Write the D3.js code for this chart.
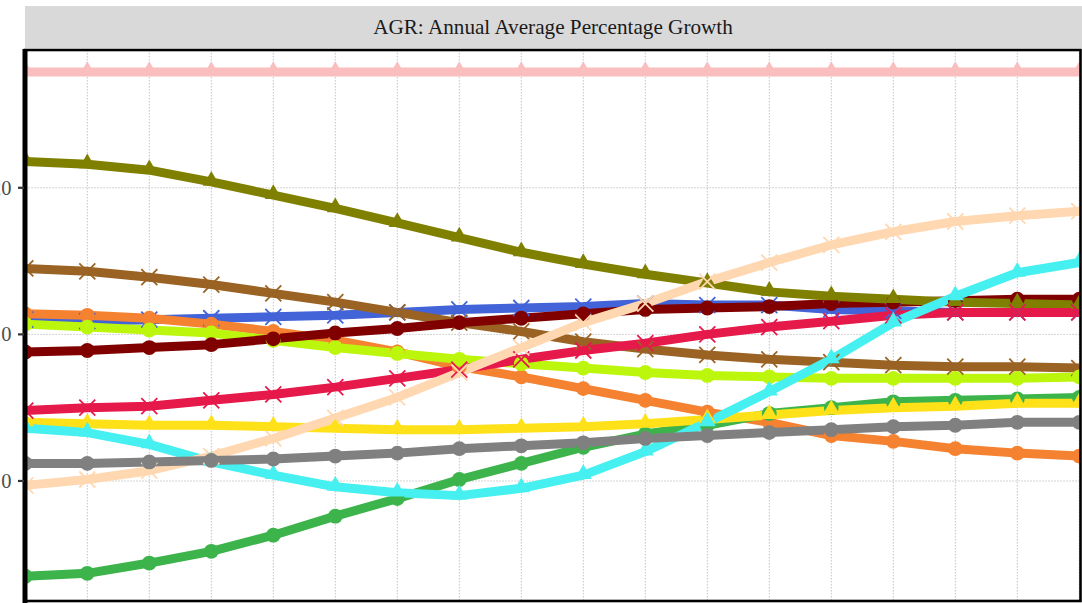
<!DOCTYPE html>
<html>
<head>
<meta charset="utf-8">
<script src="https://cdn.jsdelivr.net/npm/d3@7"></script>
<style>
html,body{margin:0;padding:0;background:#fff;}
svg{display:block;}
</style>
</head>
<body>
<svg id="chart" width="1082" height="603"></svg>
<script>
// ---- data ----
const title = "AGR: Annual Average Percentage Growth";
const periods = d3.range(1, 19); // 18 time points
const yTicks = [0, 10, 20];
const yTickLabels = ["0", "10", "20"];

const seriesNames  = ["S01","S02","S03","S04","S05","S06","S07","S08","S09","S10","S11","S12","S13"];
const seriesColors = ["#fabebe","#4363d8","#9a6324","#f58231","#bcf60c","#800000","#808000","#e6194b","#3cb44b","#ffe119","#46f0f0","#ffd8b1","#808080"];
const seriesShapes = ["triangle","cross","cross","circle","circle","circle","triangle","cross","circle","triangle","triangle","cross","circle"];

const vPink   = [27.9,27.9,27.9,27.9,27.9,27.9,27.9,27.9,27.9,27.9,27.9,27.9,27.9,27.9,27.9,27.9,27.9,27.9];
const vBlue   = [11.0,10.9,11.0,11.1,11.2,11.3,11.5,11.7,11.8,11.9,12.1,12.0,12.0,11.7,11.6,11.5,11.5,11.5];
const vBrown  = [14.5,14.3,13.9,13.4,12.8,12.2,11.5,10.8,10.2,9.5,9.0,8.6,8.3,8.1,7.9,7.8,7.8,7.7];
const vOrange = [11.4,11.3,11.1,10.7,10.2,9.6,8.8,7.8,7.1,6.3,5.5,4.7,4.0,3.1,2.7,2.2,1.9,1.7];
const vLime   = [10.7,10.5,10.3,10.1,9.6,9.1,8.7,8.3,8.0,7.7,7.4,7.2,7.1,7.0,7.0,7.0,7.0,7.1];
const vMaroon = [8.8,8.9,9.1,9.3,9.7,10.1,10.4,10.8,11.1,11.4,11.7,11.8,11.9,12.1,12.2,12.3,12.4,12.4];
const vOlive  = [21.8,21.6,21.2,20.4,19.5,18.6,17.6,16.6,15.6,14.8,14.1,13.5,12.9,12.6,12.4,12.2,12.1,12.0];
const vRed    = [4.8,5.0,5.1,5.5,5.9,6.4,7.0,7.6,8.3,8.9,9.4,10.0,10.5,10.9,11.3,11.5,11.5,11.5];
const vGreen  = [-6.5,-6.3,-5.6,-4.8,-3.7,-2.4,-1.2,0.1,1.2,2.3,3.2,3.8,4.6,5.0,5.4,5.5,5.6,5.7];
const vYellow = [4.0,3.9,3.8,3.8,3.7,3.6,3.5,3.5,3.6,3.7,3.9,4.2,4.5,4.8,5.0,5.1,5.3,5.3];
const vCyan   = [3.6,3.3,2.5,1.3,0.4,-0.4,-0.8,-1.0,-0.5,0.4,2.0,4.0,6.1,8.3,10.8,12.6,14.2,14.9];
const vPeach  = [-0.3,0.1,0.7,1.7,2.9,4.3,5.7,7.4,9.1,10.8,12.1,13.6,14.9,16.1,17.0,17.7,18.1,18.4];
const vGrey   = [1.2,1.2,1.3,1.4,1.5,1.7,1.9,2.2,2.4,2.6,2.9,3.1,3.3,3.5,3.7,3.8,4.0,4.0];

const seriesValues = [vPink,vBlue,vBrown,vOrange,vLime,vMaroon,vOlive,vRed,vGreen,vYellow,vCyan,vPeach,vGrey];

// ---- layout ----
const W = 1082, H = 603;
const panel = {left: 25.3, right: 1079.8, top: 50, bottom: 601};
const svg = d3.select("#chart");

const x = d3.scaleLinear().domain([1, 18]).range([25.3, 1079.3]);
const y = d3.scaleLinear().domain([-8.12, 29.4]).range([600, 50]);

const series = seriesNames.map((n, i) => ({
  name: n, color: seriesColors[i], shape: seriesShapes[i],
  pts: periods.map((p, j) => ({p, v: seriesValues[i][j]}))
}));

// strip
svg.append("rect").attr("x", 25).attr("y", 6).attr("width", W - 25).attr("height", 42).attr("fill", "#d9d9d9");
svg.append("text").attr("x", 553).attr("y", 33.5).attr("text-anchor", "middle")
  .attr("font-family", "'Liberation Serif','DejaVu Serif',serif").attr("font-size", 21.2)
  .attr("fill", "#1a1a1a").text(title);

// clip
svg.append("defs").append("clipPath").attr("id", "pc").append("rect")
  .attr("x", panel.left).attr("y", panel.top).attr("width", panel.right - panel.left).attr("height", panel.bottom - panel.top);

const g = svg.append("g").attr("clip-path", "url(#pc)");

// grid
g.append("g").selectAll("line").data(periods).join("line")
  .attr("x1", d => x(d)).attr("x2", d => x(d)).attr("y1", panel.top).attr("y2", panel.bottom)
  .attr("stroke", "#bdbdbd").attr("stroke-width", 0.9).attr("stroke-dasharray", "1.5,1.5");
g.append("g").selectAll("line").data(yTicks).join("line")
  .attr("x1", panel.left).attr("x2", panel.right).attr("y1", d => y(d)).attr("y2", d => y(d))
  .attr("stroke", "#bdbdbd").attr("stroke-width", 0.9).attr("stroke-dasharray", "1.5,1.5");

// lines
const line = d3.line().x(d => x(d.p)).y(d => y(d.v));
g.append("g").selectAll("path").data(series).join("path")
  .attr("d", d => line(d.pts)).attr("fill", "none")
  .attr("stroke", d => d.color).attr("stroke-width", 9).attr("stroke-linejoin", "round");

// points
const triSym = d3.symbol().type(d3.symbolTriangle).size(125);
series.forEach(s => {
  const pg = g.append("g");
  s.pts.forEach(pt => {
    const cx = x(pt.p), cy = y(pt.v);
    if (s.shape === "circle") {
      pg.append("circle").attr("cx", cx).attr("cy", cy).attr("r", 7.4).attr("fill", s.color);
    } else if (s.shape === "triangle") {
      pg.append("path").attr("d", triSym()).attr("transform", `translate(${cx},${cy - 1})`).attr("fill", s.color);
    } else {
      const r = 8;
      pg.append("path").attr("d", `M${cx-r},${cy-r}L${cx+r},${cy+r}M${cx-r},${cy+r}L${cx+r},${cy-r}`)
        .attr("stroke", s.color).attr("stroke-width", 1.8).attr("fill", "none");
    }
  });
});

// border
svg.append("rect").attr("x", 25).attr("y", 50).attr("width", 1055.5).attr("height", 551)
  .attr("fill", "none").attr("stroke", "#000").attr("stroke-width", 2.6);
svg.append("line").attr("x1", 25).attr("x2", 25).attr("y1", 49).attr("y2", 603)
  .attr("stroke", "#000").attr("stroke-width", 5);

// y axis ticks & labels (the left edge of the picture crops all but the last digit)
const ya = svg.append("g");
ya.selectAll("line").data(yTicks).join("line")
  .attr("x1", 18).attr("x2", 24).attr("y1", d => y(d)).attr("y2", d => y(d))
  .attr("stroke", "#333").attr("stroke-width", 2.2);
ya.selectAll("text").data(yTicks).join("text")
  .attr("x", 11.5).attr("y", d => y(d) + 7).attr("text-anchor", "end")
  .attr("font-family", "'Liberation Serif','DejaVu Serif',serif").attr("font-size", 20.5)
  .attr("fill", "#4d4d4d").text((d, i) => yTickLabels[i]);
</script>
</body>
</html>
